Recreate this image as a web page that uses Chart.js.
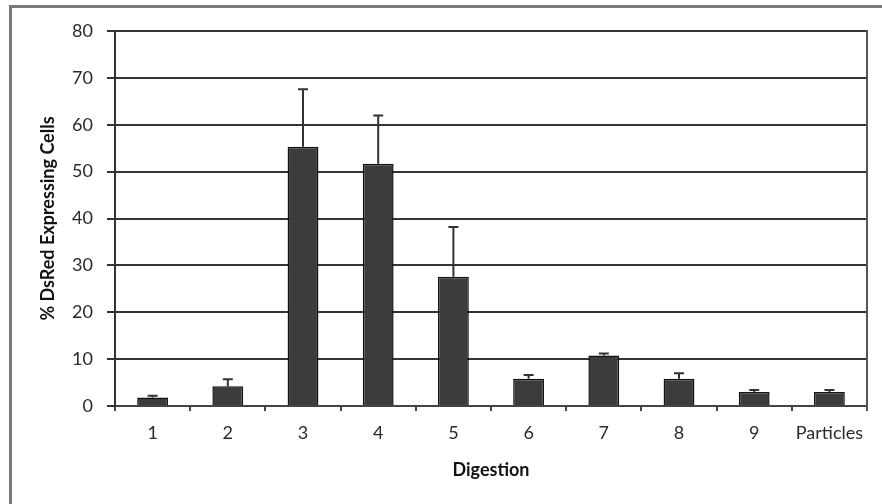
<!DOCTYPE html>
<html>
<head>
<meta charset="utf-8">
<script src="https://cdn.jsdelivr.net/npm/chart.js@4.4.0/dist/chart.umd.min.js"></script>
<style>
    html, body { margin: 0; padding: 0; background: #fff; }
    #frame {
        position: absolute; left: 9px; top: 5px; width: 900px; height: 520px;
        border-left: 3px solid #7a7a7a; border-top: 3px solid #7a7a7a;
    }
    #wrap { position: absolute; left: 0; top: 0; width: 882px; height: 504px; }
</style>
</head>
<body>
<div id="frame"></div>
<div id="wrap"><canvas id="chart" width="882" height="504"></canvas></div>
<script>
var categories = ["1", "2", "3", "4", "5", "6", "7", "8", "9", "Particles"];
var cellValues = [1.8, 4.2, 55.3, 51.7, 27.6, 5.8, 10.8, 5.8, 3.0, 3.0];
var cellErrors = [0.4, 1.5, 12.3, 10.3, 10.6, 0.8, 0.4, 1.2, 0.4, 0.4];
var yTicks = [0, 10, 20, 30, 40, 50, 60, 70, 80];

var errorBars = {
    id: 'errorBars',
    afterDatasetsDraw: function(chart) {
        var ctx = chart.ctx;
        var yScale = chart.scales.y;
        var meta = chart.getDatasetMeta(0);
        ctx.save();
        ctx.strokeStyle = '#333';
        ctx.lineWidth = 2;
        meta.data.forEach(function(bar, i) {
            var top = yScale.getPixelForValue(cellValues[i] + cellErrors[i]);
            ctx.beginPath();
            ctx.moveTo(bar.x, bar.y);
            ctx.lineTo(bar.x, top);
            ctx.moveTo(bar.x - 5, top);
            ctx.lineTo(bar.x + 5, top);
            ctx.stroke();
        });
        ctx.restore();
    }
};

var rightEdge = {
    id: 'rightEdge',
    afterDraw: function(chart) {
        var a = chart.chartArea;
        var ctx = chart.ctx;
        ctx.save();
        ctx.strokeStyle = '#555';
        ctx.lineWidth = 2;
        ctx.beginPath();
        ctx.moveTo(a.right, a.top - 1);
        ctx.lineTo(a.right, a.bottom + 5);
        ctx.stroke();
        ctx.restore();
    }
};

var chartOptions = {
    type: 'bar',
    data: {
        labels: categories,
        datasets: [
            {
                label: '% DsRed Expressing Cells',
                data: cellValues,
                backgroundColor: '#3c3c3c',
                borderColor: '#111',
                borderWidth: 1.5,
                barPercentage: 0.41,
                categoryPercentage: 1.0
            }
        ]
    },
    options: {
        responsive: false,
        animation: false,
        layout: { padding: { left: 20, top: 31, right: 15, bottom: 0 } },
        plugins: {
            legend: { display: false },
            tooltip: { enabled: false }
        },
        scales: {
            x: {
                grid: {
                    display: true,
                    drawOnChartArea: false,
                    drawTicks: true,
                    tickLength: 5,
                    offset: true,
                    color: '#444',
                    lineWidth: 2
                },
                border: { display: true, color: '#444', width: 2 },
                ticks: {
                    color: '#2a2a2a',
                    font: { family: 'Lato', size: 18 },
                    padding: 11,
                    maxRotation: 0,
                    autoSkip: false
                },
                title: {
                    display: true,
                    text: 'Digestion',
                    color: '#111',
                    font: { family: 'Lato', size: 18, weight: 'bold' },
                    padding: { top: 0, bottom: 23 }
                },
                afterFit: function(scale) { scale.height = 98; }
            },
            y: {
                min: 0,
                max: 80,
                afterBuildTicks: function(scale) {
                    scale.ticks = yTicks.map(function(v) { return { value: v }; });
                },
                grid: {
                    color: '#333',
                    lineWidth: 2,
                    tickLength: 8
                },
                border: { display: true, color: '#333', width: 2 },
                ticks: {
                    color: '#2a2a2a',
                    font: { family: 'Lato', size: 18 },
                    padding: 14
                },
                title: {
                    display: true,
                    text: '% DsRed Expressing Cells',
                    color: '#111',
                    font: { family: 'Lato', size: 18, weight: 'bold' },
                    padding: { top: 17, bottom: 0 }
                },
                afterFit: function(scale) { scale.width = 95; }
            }
        }
    },
    plugins: [errorBars, rightEdge]
};

var ctx = document.getElementById('chart').getContext('2d');
var chart = new Chart(ctx, chartOptions);
</script>
</body>
</html>
